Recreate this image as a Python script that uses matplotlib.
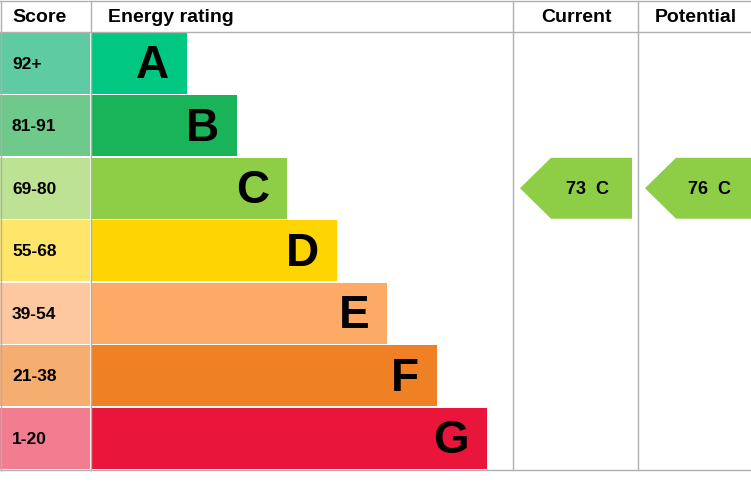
import matplotlib
matplotlib.use("Agg")
import matplotlib.pyplot as plt
from matplotlib.patches import Rectangle, Polygon

bands = ["A", "B", "C", "D", "E", "F", "G"]
score_labels = ["92+", "81-91", "69-80", "55-68", "39-54", "21-38", "1-20"]
band_min = [92, 81, 69, 55, 39, 21, 1]
bar_colors = ["#00c781", "#19b459", "#8dce46", "#ffd500", "#fcaa65", "#ef8023", "#e9153b"]
score_colors = ["#5fcba3", "#6ec98b", "#bde293", "#ffe66a", "#fdc7a0", "#f5ad70", "#f27d91"]
current = 73
potential = 76

def band_of(v):
    for i, m in enumerate(band_min):
        if v >= m:
            return i
    return len(bands) - 1

W, H = 751, 502
fig = plt.figure(figsize=(W/100, H/100), dpi=100)
ax = fig.add_axes([0, 0, 1, 1])
ax.set_xlim(0, W); ax.set_ylim(H, 0); ax.axis("off")
font = "Liberation Sans"

top, row_h = 33, 62.5
for i, b in enumerate(bands):
    y0 = top + i*row_h + 0.8
    h = row_h - 1.6
    ax.add_patch(Rectangle((0, y0), 90, h, color=score_colors[i], lw=0))
    x_end = 187 + 50*i
    ax.add_patch(Rectangle((91, y0), x_end-91, h, color=bar_colors[i], lw=0))
    ax.text(12, y0+h/2, score_labels[i], va="center", ha="left", fontsize=12.5,
            fontweight="bold", family=font)
    ax.text(x_end-18, y0+h/2+2, b, va="center", ha="right", fontsize=33,
            fontweight="bold", family=font)

ax.text(12, 18, "Score", va="center", fontsize=14, fontweight="bold", family=font)
ax.text(108, 18, "Energy rating", va="center", fontsize=14, fontweight="bold", family=font)
ax.text(576, 18, "Current", va="center", ha="center", fontsize=14, fontweight="bold", family=font)
ax.text(655, 18, "Potential", va="center", ha="left", fontsize=14, fontweight="bold", family=font, clip_on=True)

lc = "#b0b0b0"
ax.plot([0, W], [2, 2], color=lc, lw=1)
ax.plot([0, W], [33, 33], color=lc, lw=1)
ax.plot([0, W], [471, 471], color=lc, lw=1)
ax.plot([0.5, 0.5], [2, 471], color=lc, lw=1)
for x in [90.5, 513, 638]:
    ax.plot([x, x], [2, 471], color=lc, lw=1)

def arrow(x0, x1, val):
    i = band_of(val)
    y0 = top + i*row_h + 0.8
    h = row_h - 1.6
    ax.add_patch(Polygon([(x0, y0+h/2), (x0+31, y0), (x1, y0), (x1, y0+h), (x0+31, y0+h)],
                         closed=True, color=bar_colors[i], lw=0))
    ax.text(x0+68 if x1 < 700 else x0+65, y0+h/2, f"{val}  {bands[i]}", va="center", ha="center",
            fontsize=13, fontweight="bold", family=font)

arrow(520, 632, current)
arrow(645, 760, potential)

fig.savefig("out.png", dpi=100)
